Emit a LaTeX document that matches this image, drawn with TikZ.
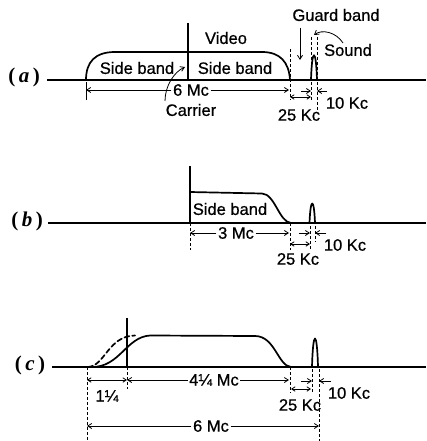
\documentclass[tikz,border=0pt]{standalone}
\usepackage{fontspec}
\setmainfont{Liberation Sans}
\newfontfamily\lblfont{Liberation Sans}[FakeBold=0.7]
\newfontfamily\panelfont{Liberation Serif}
\usetikzlibrary{arrows.meta}
\tikzset{
  lbl/.style={font=\lblfont\fontsize{16.5}{18}\selectfont, inner sep=1.5pt},
  plbl/.style={font=\panelfont\bfseries\fontsize{21}{24}\selectfont, inner sep=0pt},
  base/.style={line width=1.2pt},
  band/.style={line width=1.7pt, line join=round, line cap=round},
  dim/.style={line width=0.8pt},
  tick/.style={line width=0.8pt, dash pattern=on 3pt off 2pt},
  arr/.style={dim, -{Straight Barb[length=4pt,width=5pt]}},
  darr/.style={dim, {Straight Barb[length=3.5pt,width=4.5pt]}-{Straight Barb[length=3.5pt,width=4.5pt]}},
}
\begin{document}
\begin{tikzpicture}[x=1pt,y=-1pt]
\useasboundingbox (0,0) rectangle (426,441);
% ---------------- (a) ----------------
\node[plbl] (pa) at (24,77) {(\,\textit{a}\,)};
\coordinate (aL) at (47,80); \coordinate (aR) at (426,80);
\draw[base] (aL) -- (aR);
\coordinate (aBs) at (86,80); \coordinate (aBe) at (290,80);
\draw[band] (aBs) .. controls (86,62) and (95,52) .. (115,52) -- (262,52) .. controls (280,52) and (289,62) .. (aBe);
\coordinate (aCt) at (188,23); \coordinate (aCb) at (188,80);
\draw[base] (aCt) -- (aCb);
\node[lbl] (video) at (226,38) {Video};
\node[lbl] (sbl) at (137,68) {Side band};
\node[lbl] (sbr) at (235,68) {Side band};
\node[lbl] (carrier) at (191,110) {Carrier};
\coordinate (carS) at (165,101); \coordinate (carE) at (185,67);
\draw[arr] (carS) .. controls (165,86) and (174,72) .. (carE);
\draw[dim] (86,82) -- (86,100);
\node[lbl] (sixA) at (191,90) {6 Mc};
\coordinate (sixAl) at (86,90); \coordinate (sixAr) at (289,90);
\draw[arr] (sixA.west) -- (sixAl);
\draw[arr] (sixA.east) -- (sixAr);
\draw[tick] (290,49) -- (290,100);
\draw[band] (311,80) .. controls (312,47) and (316,47) .. (317,80);
\draw[tick] (311,37) -- (311,100);
\draw[tick] (317,37) -- (317,112);
\node[lbl] (guard) at (336,15) {Guard band};
\coordinate (gT) at (300,28); \coordinate (gB) at (300,60);
\draw[arr] (gT) -- (gB);
\node[lbl] (sound) at (348,50) {Sound};
\coordinate (sS) at (343,43); \coordinate (sE) at (314,35);
\draw[arr] (sS) .. controls (336,32) and (322,29) .. (sE);
\coordinate (a25l) at (290,97); \coordinate (a25r) at (311,97);
\draw[darr] (a25l) -- (a25r);
\node[lbl] (a25) at (299,115) {25 Kc};
\coordinate (a10l) at (301,91); \coordinate (a10r) at (327,91);
\draw[arr] (a10l) -- (311,91);
\draw[arr] (a10r) -- (317,91);
\node[lbl] (a10) at (347,103) {10 Kc};
% ---------------- (b) ----------------
\node[plbl] (pb) at (27,221) {(\,\textit{b}\,)};
\draw[base] (48,223) -- (426,223);
\draw[base] (190,166) -- (190,223);
\draw[tick] (190,223) -- (190,250);
\draw[band] (190,223) -- (190,192) -- (262,193.5) .. controls (275,194) and (279,222) .. (291,223);
\node[lbl] (sbb) at (230,209) {Side band};
\node[lbl] (threeMc) at (236,233) {3 Mc};
\draw[arr] (threeMc.west) -- (190,233);
\draw[arr] (threeMc.east) -- (289,233);
\draw[tick] (290,223) -- (290,250);
\draw[band] (309.5,223) .. controls (310.5,197) and (314,197) .. (315,223);
\draw[tick] (310,226) -- (310,250);
\draw[tick] (315,226) -- (315,242);
\draw[darr] (290,244) -- (310,244);
\node[lbl] (b25) at (298,259) {25 Kc};
\draw[arr] (299,233) -- (310,233);
\draw[arr] (326,233) -- (315,233);
\node[lbl] (b10) at (345,245) {10 Kc};
% ---------------- (c) ----------------
\node[plbl] (pc) at (30,365) {(\,\textit{c}\,)};
\draw[base] (52,367) -- (426,367);
\draw[base] (127,318) -- (127,367);
\draw[tick] (127,367) -- (127,389);
\draw[tick] (87,367) -- (87,441);
\draw[band] (92,367) .. controls (120,367) and (126,337) .. (150,335.5) -- (255,336) .. controls (275,336) and (278,366) .. (291,367);
\draw[band, dash pattern=on 5pt off 3pt] (88,367) .. controls (105,366) and (108,336) .. (135,335.5);
\draw[darr] (87,380) -- (127,380);
\node[lbl] (oneq) at (107,396) {1¼};
\node[lbl] (fourq) at (214,380) {4¼ Mc};
\draw[arr] (fourq.west) -- (127,380);
\draw[arr] (fourq.east) -- (289,380);
\draw[tick] (290,367) -- (290,393);
\draw[band] (312,367) .. controls (313,329) and (317,329) .. (318,367);
\draw[tick] (312,369) -- (312,392);
\draw[tick] (319,369) -- (319,441);
\draw[darr] (291,389) -- (311,389);
\node[lbl] (c25) at (300,405) {25 Kc};
\draw[arr] (301,381) -- (312,381);
\draw[arr] (331,381) -- (319,381);
\node[lbl] (c10) at (349,393) {10 Kc};
\node[lbl] (sixC) at (211,426) {6 Mc};
\draw[arr] (sixC.west) -- (87,426);
\draw[arr] (sixC.east) -- (319,426);
\end{tikzpicture}
\end{document}
